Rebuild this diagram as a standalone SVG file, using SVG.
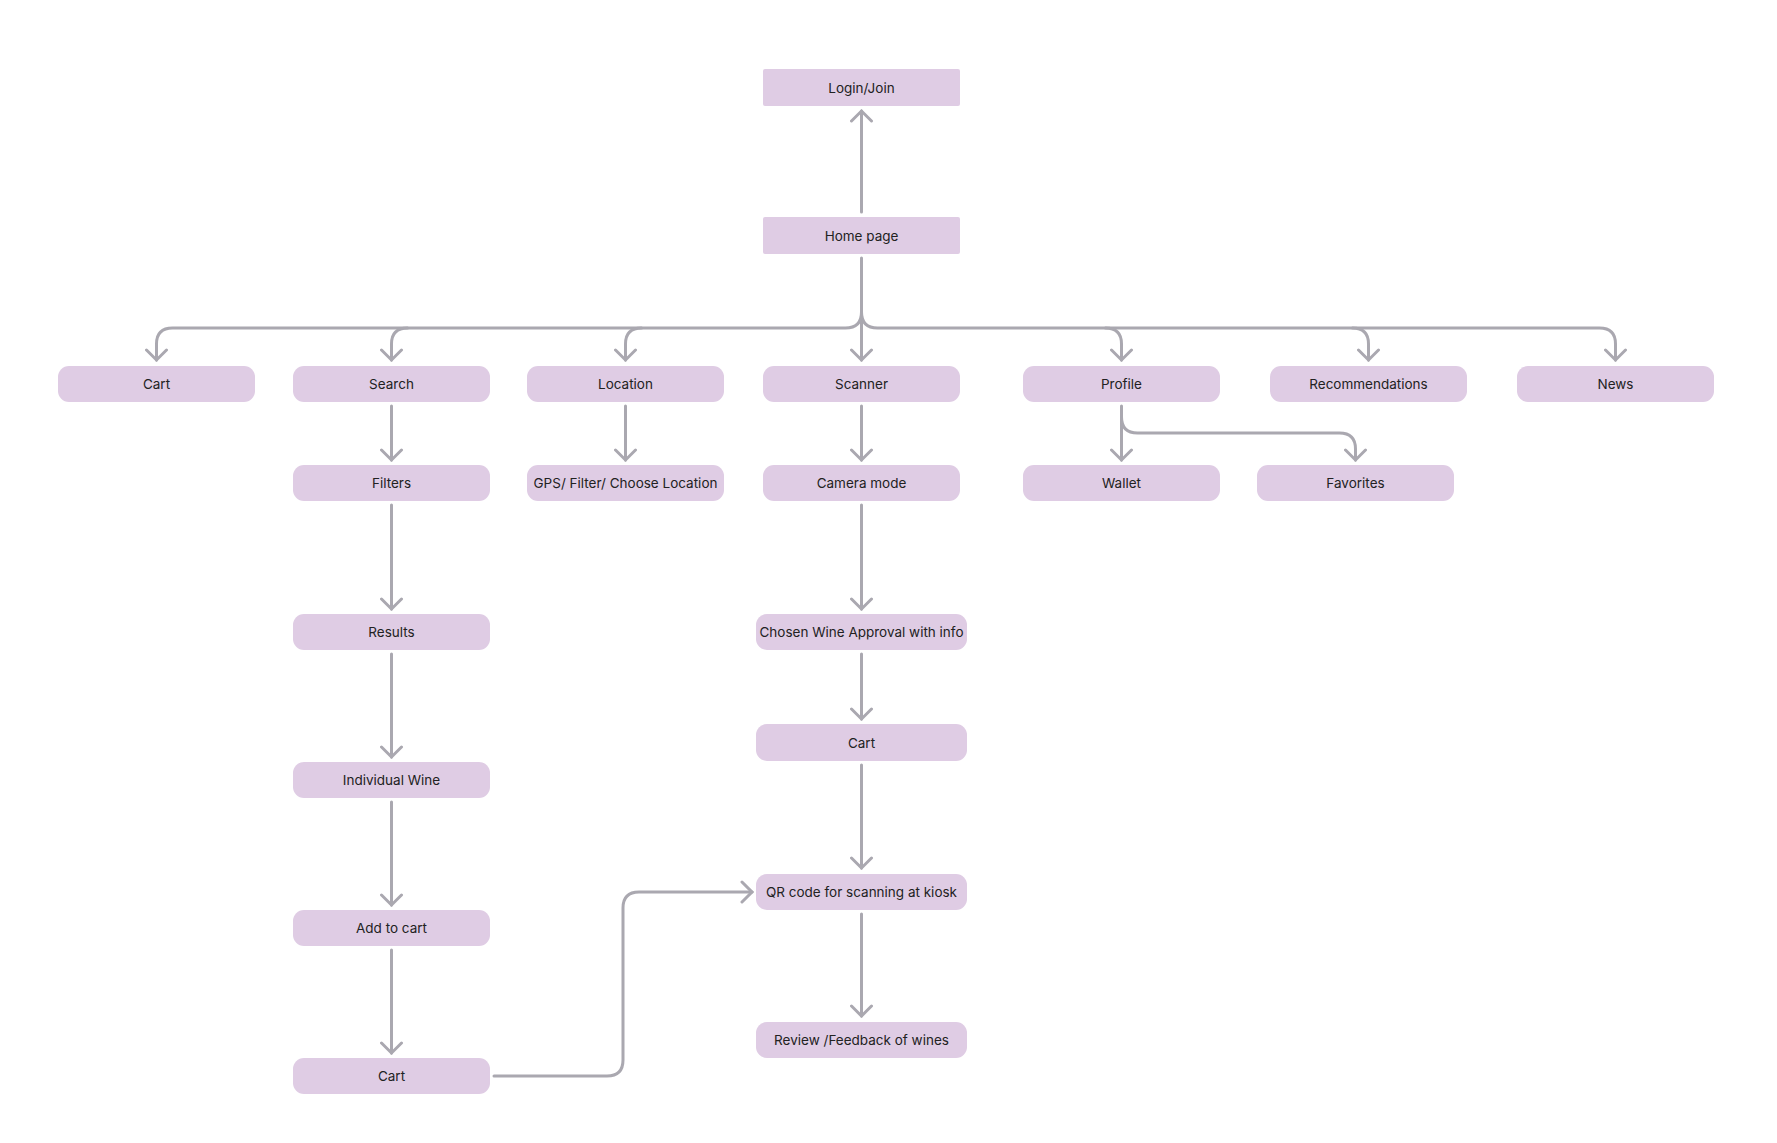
<svg xmlns="http://www.w3.org/2000/svg" width="1777" height="1143" viewBox="0 0 1777 1143">
<style>
.n rect{fill:#dfcce4}
.n text{font-family:Inter,"Liberation Sans",sans-serif;font-size:13.5px;fill:#222;text-anchor:middle;dominant-baseline:central}
.c path{fill:none;stroke:#aaa8b0;stroke-width:3;stroke-linecap:round;stroke-linejoin:round}
</style>
<defs><marker id="a" viewBox="-12 -12 24 24" markerWidth="24" markerHeight="24" markerUnits="userSpaceOnUse" orient="auto"><path d="M-10,-10 L0,0 L-10,10" fill="none" stroke="#aaa8b0" stroke-width="3" stroke-linecap="round"/></marker></defs>
<g class="c">
<path d="M861.5,212 V111" marker-end="url(#a)"/>
<path d="M861.5,258 V360" marker-end="url(#a)"/>
<path d="M861.5,312 Q861.5,328 845.5,328 H172.5 Q156.5,328 156.5,344 V360" marker-end="url(#a)"/>
<path d="M407.5,328 Q391.5,328 391.5,344 V360" marker-end="url(#a)"/>
<path d="M641.5,328 Q625.5,328 625.5,344 V360" marker-end="url(#a)"/>
<path d="M861.5,312 Q861.5,328 877.5,328 H1599.5 Q1615.5,328 1615.5,344 V360" marker-end="url(#a)"/>
<path d="M1105.5,328 Q1121.5,328 1121.5,344 V360" marker-end="url(#a)"/>
<path d="M1352.5,328 Q1368.5,328 1368.5,344 V360" marker-end="url(#a)"/>
<path d="M391.5,406 V460" marker-end="url(#a)"/>
<path d="M625.5,406 V460" marker-end="url(#a)"/>
<path d="M861.5,406 V460" marker-end="url(#a)"/>
<path d="M1121.5,406 V460" marker-end="url(#a)"/>
<path d="M1121.5,417 Q1121.5,433 1137.5,433 H1339.5 Q1355.5,433 1355.5,449 V460" marker-end="url(#a)"/>
<path d="M391.5,505 V609" marker-end="url(#a)"/>
<path d="M861.5,505 V609" marker-end="url(#a)"/>
<path d="M391.5,654 V757" marker-end="url(#a)"/>
<path d="M861.5,654 V719" marker-end="url(#a)"/>
<path d="M391.5,802 V905" marker-end="url(#a)"/>
<path d="M861.5,765 V868" marker-end="url(#a)"/>
<path d="M391.5,950 V1053" marker-end="url(#a)"/>
<path d="M861.5,914 V1016" marker-end="url(#a)"/>
<path d="M494,1076 H607 Q623,1076 623,1060 V908 Q623,892 639,892 H752" marker-end="url(#a)"/>
</g>
<g id="login" class="n"><rect x="763" y="69" width="197" height="37" rx="2"/><text x="861.5" y="87.5">Login/Join</text></g>
<g id="home" class="n"><rect x="763" y="217" width="197" height="37" rx="2"/><text x="861.5" y="235.5">Home page</text></g>
<g id="cart1" class="n"><rect x="58" y="366" width="197" height="36" rx="11"/><text x="156.5" y="384">Cart</text></g>
<g id="search" class="n"><rect x="293" y="366" width="197" height="36" rx="11"/><text x="391.5" y="384">Search</text></g>
<g id="location" class="n"><rect x="527" y="366" width="197" height="36" rx="11"/><text x="625.5" y="384">Location</text></g>
<g id="scanner" class="n"><rect x="763" y="366" width="197" height="36" rx="11"/><text x="861.5" y="384">Scanner</text></g>
<g id="profile" class="n"><rect x="1023" y="366" width="197" height="36" rx="11"/><text x="1121.5" y="384">Profile</text></g>
<g id="recs" class="n"><rect x="1270" y="366" width="197" height="36" rx="11"/><text x="1368.5" y="384">Recommendations</text></g>
<g id="news" class="n"><rect x="1517" y="366" width="197" height="36" rx="11"/><text x="1615.5" y="384">News</text></g>
<g id="filters" class="n"><rect x="293" y="465" width="197" height="36" rx="11"/><text x="391.5" y="483">Filters</text></g>
<g id="gps" class="n"><rect x="527" y="465" width="197" height="36" rx="11"/><text x="625.5" y="483">GPS/ Filter/ Choose Location</text></g>
<g id="camera" class="n"><rect x="763" y="465" width="197" height="36" rx="11"/><text x="861.5" y="483">Camera mode</text></g>
<g id="wallet" class="n"><rect x="1023" y="465" width="197" height="36" rx="11"/><text x="1121.5" y="483">Wallet</text></g>
<g id="favorites" class="n"><rect x="1257" y="465" width="197" height="36" rx="11"/><text x="1355.5" y="483">Favorites</text></g>
<g id="results" class="n"><rect x="293" y="614" width="197" height="36" rx="11"/><text x="391.5" y="632">Results</text></g>
<g id="chosen" class="n"><rect x="756" y="614" width="211" height="36" rx="11"/><text x="861.5" y="632">Chosen Wine Approval with info</text></g>
<g id="cart2" class="n"><rect x="756" y="724" width="211" height="37" rx="11"/><text x="861.5" y="742.5">Cart</text></g>
<g id="indiv" class="n"><rect x="293" y="762" width="197" height="36" rx="11"/><text x="391.5" y="780">Individual Wine</text></g>
<g id="qr" class="n"><rect x="756" y="874" width="211" height="36" rx="11"/><text x="861.5" y="892">QR code for scanning at kiosk</text></g>
<g id="addcart" class="n"><rect x="293" y="910" width="197" height="36" rx="11"/><text x="391.5" y="928">Add to cart</text></g>
<g id="review" class="n"><rect x="756" y="1022" width="211" height="36" rx="11"/><text x="861.5" y="1040">Review /Feedback of wines</text></g>
<g id="cart3" class="n"><rect x="293" y="1058" width="197" height="36" rx="11"/><text x="391.5" y="1076">Cart</text></g>
</svg>
